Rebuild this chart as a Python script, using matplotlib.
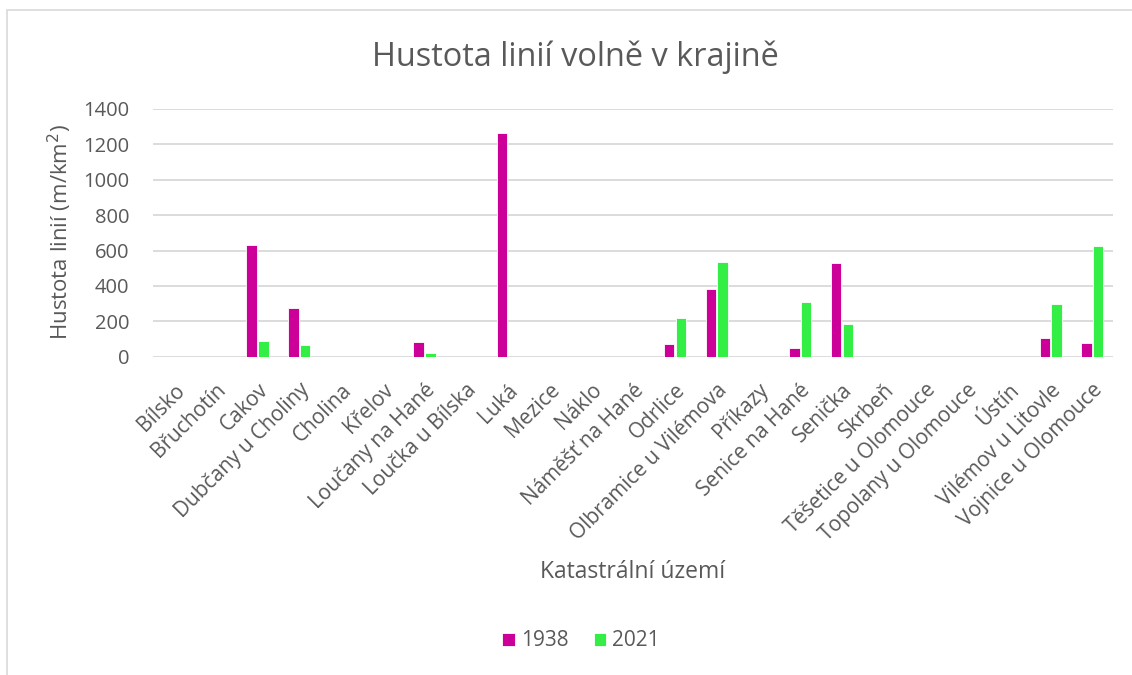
import matplotlib
matplotlib.use('Agg')
import matplotlib.pyplot as plt
import numpy as np
from matplotlib.patches import Rectangle

# data
categories = ["Bílsko", "Břuchotín", "Cakov", "Dubčany u Choliny", "Cholina", "Křelov",
              "Loučany na Hané", "Loučka u Bílska", "Luká", "Mezice", "Náklo",
              "Náměšť na Hané", "Odrlice", "Olbramice u Vilémova", "Příkazy",
              "Senice na Hané", "Senička", "Skrbeň", "Těšetice u Olomouce",
              "Topolany u Olomouce", "Ústín", "Vilémov u Litovle", "Vojnice u Olomouce"]
v1938 = [0, 0, 631, 277, 0, 0, 85, 0, 1266, 0, 0, 0, 72, 384, 0, 51, 528, 0, 0, 0, 0, 104, 76]
v2021 = [0, 0, 90, 68, 0, 0, 23, 0, 0, 0, 0, 0, 217, 535, 0, 309, 185, 0, 0, 0, 0, 298, 625]
series_names = ["1938", "2021"]
yticks = [0, 200, 400, 600, 800, 1000, 1200, 1400]

MAGENTA = "#CC0099"
GREEN = "#33EE44"
TEXT = "#595959"
GRID = "#D9D9D9"

plt.rcParams['font.family'] = ['Open Sans', 'DejaVu Sans']

fig = plt.figure(figsize=(11.32, 6.75), dpi=100)
W, H = 1132, 675

# chart border (cut off at right and bottom like the reference)
fig.patches.append(Rectangle((7 / W, -0.1), 1.2, 1 - 10 / H + 0.1, transform=fig.transFigure,
                             fill=False, edgecolor=GRID, linewidth=1.2))

ax = fig.add_axes([153 / W, 1 - 356.7 / H, (1113 - 153) / W, (356.7 - 109) / H])

x = np.arange(len(categories))
ax.bar(x - 0.135, v1938, width=0.25, color=MAGENTA, edgecolor="white", linewidth=0.6,
       label=series_names[0], zorder=3)
ax.bar(x + 0.145, v2021, width=0.25, color=GREEN, edgecolor="white", linewidth=0.6,
       label=series_names[1], zorder=3)

ax.set_xlim(-0.5, len(categories) - 0.5)
ax.set_ylim(0, 1400)
ax.set_yticks(yticks)
ax.yaxis.grid(True, color=GRID, linewidth=1.3, zorder=0)
ax.set_axisbelow(True)
for s in ax.spines.values():
    s.set_visible(False)

ax.set_xticks(x)
ax.set_xticklabels(categories, rotation=45, ha='right', rotation_mode='anchor', fontsize=15)
ax.tick_params(axis='both', length=0, colors=TEXT)
ax.tick_params(axis='y', labelsize=14.5, pad=17)
ax.tick_params(axis='x', pad=16.5)

fig.text(60 / W, 1 - 232 / H, "Hustota linií (m/km$^2$)", fontsize=16, color=TEXT,
         rotation=90, ha='center', va='center')
fig.text(633 / W, 1 - 572 / H, "Katastrální území", fontsize=16.5, color=TEXT,
         ha='center', va='center')
fig.text(575 / W, 1 - 57 / H, "Hustota linií volně v krajině", fontsize=23.4, color=TEXT,
         ha='center', va='center')

leg = fig.legend(loc='center', bbox_to_anchor=(581 / W, 1 - 641 / H), ncol=2, frameon=False,
                 fontsize=15, handlelength=0.6, handleheight=0.6, handletextpad=0.3,
                 columnspacing=1.2)
for t in leg.get_texts():
    t.set_color(TEXT)

fig.savefig("out.png", dpi=100)
